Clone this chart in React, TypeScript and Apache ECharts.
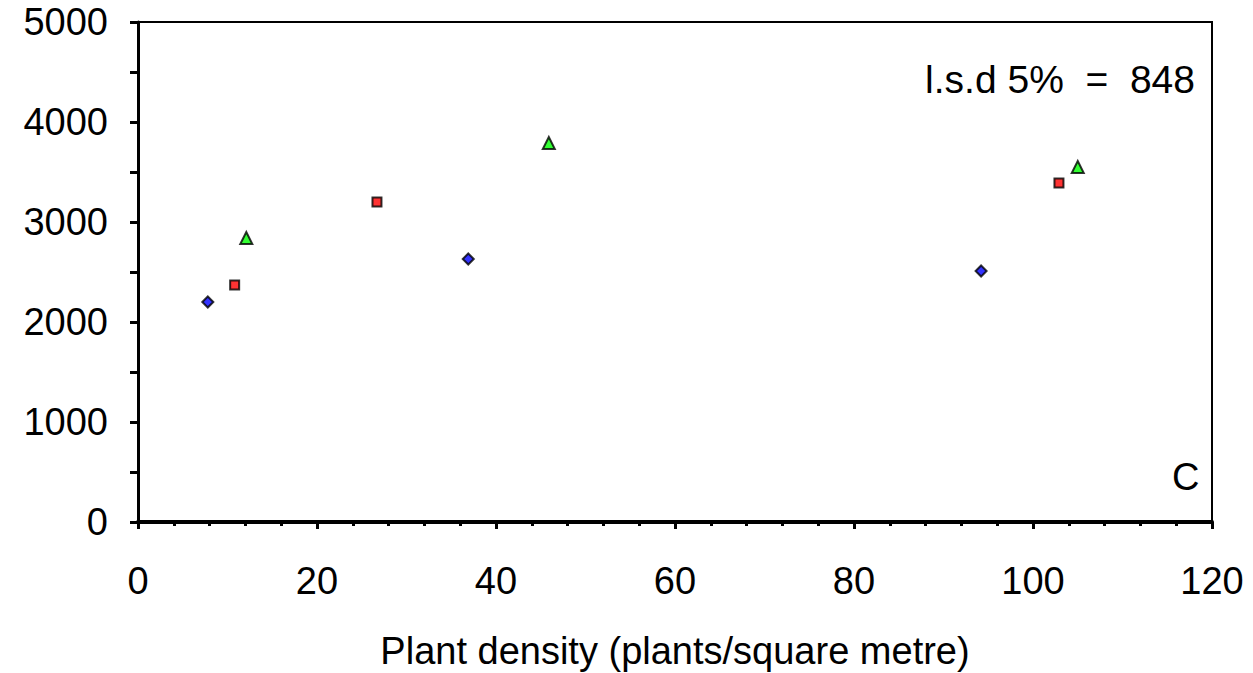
import React, { useEffect, useRef } from "react";
import * as echarts from "echarts";

const blueSeries: [number, number][] = [
  [7.8, 2200],
  [36.9, 2630],
  [94.2, 2510],
];
const redSeries: [number, number][] = [
  [10.8, 2370],
  [26.7, 3200],
  [102.9, 3390],
];
const greenSeries: [number, number][] = [
  [12.1, 2840],
  [45.9, 3790],
  [105.0, 3550],
];
const xTicks = [0, 20, 40, 60, 80, 100, 120];
const yTicks = [0, 1000, 2000, 3000, 4000, 5000];
const lsdLabel = "l.s.d 5%  =  848";
const panelLabel = "C";
const xAxisName = "Plant density (plants/square metre)";

const FONT = "'Liberation Sans', Arial, sans-serif";

export default function App() {
  const ref = useRef<HTMLDivElement>(null);
  useEffect(() => {
    if (!ref.current) return;
    const chart = echarts.init(ref.current, undefined, { renderer: "svg" });
    const option: any = {
      animation: false,
      backgroundColor: "#ffffff",
      grid: {
        left: 138,
        right: 41,
        top: 22,
        bottom: 151,
        show: true,
        borderColor: "#000",
        borderWidth: 2,
        backgroundColor: "transparent",
        containLabel: false,
        outerBoundsMode: "none",
      },
      xAxis: {
        type: "value",
        min: xTicks[0],
        max: xTicks[xTicks.length - 1],
        interval: 20,
        name: xAxisName,
        nameLocation: "middle",
        nameGap: 110,
        nameTextStyle: { fontFamily: FONT, fontSize: 38, color: "#000" },
        axisLine: { show: true, onZero: false, lineStyle: { color: "#000", width: 4 } },
        axisTick: { show: true, length: 7, lineStyle: { color: "#000", width: 3 } },
        minorTick: { show: true, splitNumber: 5, length: 4, lineStyle: { color: "#000", width: 3 } },
        splitLine: { show: false },
        axisLabel: { fontFamily: FONT, fontSize: 38, color: "#000", margin: 40 },
      },
      yAxis: {
        type: "value",
        min: yTicks[0],
        max: yTicks[yTicks.length - 1],
        interval: 1000,
        axisLine: { show: true, onZero: false, lineStyle: { color: "#000", width: 3 } },
        axisTick: { show: true, length: 8, lineStyle: { color: "#000", width: 3 } },
        minorTick: { show: true, splitNumber: 2, length: 8, lineStyle: { color: "#000", width: 3 } },
        splitLine: { show: false },
        axisLabel: {
          fontFamily: FONT,
          fontSize: 38,
          color: "#000",
          margin: 30,
          formatter: (v: number) => String(v),
        },
      },
      series: [
        {
          type: "scatter",
          data: blueSeries,
          symbol: "diamond",
          symbolSize: 11,
          itemStyle: { color: "#0000ff", borderColor: "#000", borderWidth: 2 },
        },
        {
          type: "scatter",
          data: redSeries,
          symbol: "rect",
          symbolSize: 9,
          itemStyle: { color: "#ff0000", borderColor: "#000", borderWidth: 2 },
        },
        {
          type: "scatter",
          data: greenSeries,
          symbol: "triangle",
          symbolSize: 12,
          itemStyle: { color: "#00ff00", borderColor: "#000", borderWidth: 2 },
        },
      ],
      graphic: [
        {
          type: "text",
          right: 58,
          top: 60,
          style: { text: lsdLabel, fontFamily: FONT, fontSize: 39, fill: "#000" },
        },
        {
          type: "text",
          left: 1172,
          top: 458,
          style: { text: panelLabel, fontFamily: FONT, fontSize: 38, fill: "#000" },
        },
      ],
    };
    chart.setOption(option);
    return () => chart.dispose();
  }, []);
  return (
    <div
      ref={ref}
      style={{ position: "fixed", left: 0, top: 0, width: 1253, height: 673, background: "#fff" }}
    />
  );
}
